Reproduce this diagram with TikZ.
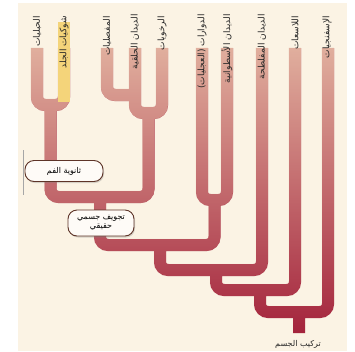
\documentclass[tikz,border=0pt]{standalone}
\usepackage{fontspec}
\newfontfamily\arabicfont[Script=Arabic]{DejaVu Sans}
\TeXXeTstate=1
\usetikzlibrary{fadings,shadows}
\definecolor{bgcream}{HTML}{FBF3E4}
\definecolor{treedark}{HTML}{A3213A}
\definecolor{treelight}{HTML}{E2B2A0}
\definecolor{yel}{HTML}{F4D47A}
\definecolor{boxline}{HTML}{5E3428}
\tikzfading[name=treefade, top color=transparent!0, middle color=transparent!55, bottom color=transparent!100]
\tikzset{
  tree/.style={line width=12pt, rounded corners=8pt, line cap=butt},
  lab/.style={rotate=90, anchor=east, inner sep=0pt, text=black!85,
    font=\arabicfont\fontsize{9}{10}\selectfont},
  clade/.style={draw=boxline, line width=0.9pt, fill=white!70!bgcream, rounded corners=9pt,
    inner sep=2pt, align=center, font=\arabicfont\fontsize{8}{9.5}\selectfont,
    drop shadow={opacity=0.3, shadow xshift=1pt, shadow yshift=-1.5pt}},
}
\begin{document}
\begin{tikzpicture}[x=1pt, y=-1pt]
\useasboundingbox (0,0) rectangle (355,351);
\fill[white] (0,0) rectangle (355,351);
\fill[bgcream] (18,3) rectangle (347,351);
\def\treepath{
  (37,48) -- (37,105) -- (64,105) -- (64,48)
  (50.5,105) -- (50.5,197) -- (148.5,197) -- (148.5,113)
  (107,48) -- (107,95) -- (135,95)
  (135,48) -- (135,113) -- (162,113) -- (162,48)
  (100,197) -- (100,245) -- (214.5,245) -- (214.5,200)
  (202,48) -- (202,200) -- (227,200) -- (227,48)
  (160,245) -- (160,270) -- (262,270) -- (262,48)
  (216,270) -- (216,290) -- (295,290) -- (295,48)
  (260,290) -- (260,312) -- (328,312) -- (328,48)
  (299,312) -- (299,333)
}
\draw[tree, treedark] \treepath;
\draw[tree, treelight, path fading=treefade] \treepath;
\draw[line width=12pt, yel] (64,22) -- (64,102);
\draw[gray!70, line width=0.6pt] (23,150) -- (23,195);
\node[clade, minimum width=78pt, minimum height=21pt] (deut) at (64,171)
  {\beginR ثانوية الفم\endR};
\node[clade, minimum width=66pt, minimum height=26pt] (coel) at (101,223)
  {\beginR تجويف جسمي\endR\\ \beginR حقيقي\endR};
\node[lab] (l1) at (37,16) {\beginR الحبليات\endR};
\node[lab] (l2) at (64,16) {\beginR شوكيات الجلد\endR};
\node[lab] (l3) at (107,16) {\beginR المفصليات\endR};
\node[lab] (l4) at (135,14) {\beginR الديدان الحلقية\endR};
\node[lab] (l5) at (162,16) {\beginR الرخويات\endR};
\node[lab] (l6) at (202,14) {\beginR الدوارات (العجليات)\endR};
\node[lab] (l7) at (227,14) {\beginR الديدان الأسطوانية\endR};
\node[lab] (l8) at (262,14) {\beginR الديدان المفلطحة\endR};
\node[lab] (l9) at (295,16) {\beginR اللاسعات\endR};
\node[lab] (l10) at (327,16) {\beginR الإسفنجيات\endR};
\node[font=\arabicfont\fontsize{8}{9}\selectfont, text=black!85] (root) at (298,344)
  {\beginR تركيب الجسم\endR};
\end{tikzpicture}
\end{document}
